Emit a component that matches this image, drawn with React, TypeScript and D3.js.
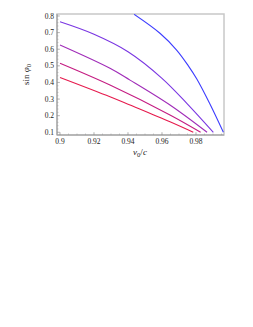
import * as d3 from "d3";

// v0/c sample points and sin(phi0) for each curve
const redV = [0.9, 0.9294, 0.9412, 0.9647, 0.9784];
const redS = [0.43, 0.314, 0.264, 0.163, 0.1];
const magentaV = [0.9, 0.9294, 0.9647, 0.9827];
const magentaS = [0.515, 0.384, 0.204, 0.1];
const purpleV = [0.9, 0.9294, 0.9412, 0.9647, 0.9865];
const purpleS = [0.625, 0.485, 0.414, 0.264, 0.1];
const violetV = [0.9, 0.92, 0.94, 0.96, 0.975, 0.9902];
const violetS = [0.765, 0.69, 0.585, 0.425, 0.27, 0.1];
const blueV = [0.9436, 0.9588, 0.9686, 0.9755, 0.9804, 0.9882, 0.9961];
const blueS = [0.81, 0.696, 0.595, 0.5, 0.422, 0.27, 0.1];

const xTicks = [0.9, 0.92, 0.94, 0.96, 0.98];
const yTicks = [0.1, 0.2, 0.3, 0.4, 0.5, 0.6, 0.7, 0.8];

const series = [
  { v: redV, s: redS, color: "#e61a4d" },
  { v: magentaV, s: magentaS, color: "#c41c82" },
  { v: purpleV, s: purpleS, color: "#a02cb8" },
  { v: violetV, s: violetS, color: "#7a36e2" },
  { v: blueV, s: blueS, color: "#3c3cff" },
];

const W = 253;
const H = 327;
const L = 57, R = 224, T = 14, B = 135;

export default function App() {
  const x = d3.scaleLinear().domain([0.89824, 0.99647]).range([L, R]);
  const y = d3.scaleLinear().domain([0.0837, 0.812]).range([B, T]);
  const line = d3
    .line<[number, number]>()
    .x((d) => x(d[0]))
    .y((d) => y(d[1]))
    .curve(d3.curveCatmullRom.alpha(0.5));
  const xMinor = d3.range(0.9, 0.996, 0.005);
  const yMinor = d3.range(0.1, 0.81, 0.02);
  const font = "'Liberation Serif', 'DejaVu Serif', serif";

  return (
    <svg
      width={W}
      height={H}
      style={{ position: "absolute", left: 0, top: 0 }}
      fontFamily={font}
    >
      <defs>
        <clipPath id="plot">
          <rect x={L} y={T} width={R - L} height={B - T} />
        </clipPath>
      </defs>
      <rect x={L} y={T} width={R - L} height={B - T} fill="white" stroke="#c8c8c8" strokeWidth={1.5} />
      <g clipPath="url(#plot)">
        {series.map((sr, i) => (
          <path
            key={i}
            d={line(sr.v.map((v, j) => [v, sr.s[j]] as [number, number])) || undefined}
            fill="none"
            stroke={sr.color}
            strokeWidth={1.1}
          />
        ))}
      </g>
      {/* left and bottom axes */}
      <line x1={L} x2={L} y1={T} y2={B} stroke="#999" strokeWidth={1} />
      <line x1={L} x2={R} y1={B} y2={B} stroke="#999" strokeWidth={1} />
      {xMinor.map((t, i) => (
        <line key={"xm" + i} x1={x(t)} x2={x(t)} y1={B} y2={B - 1.5} stroke="#999" strokeWidth={0.5} />
      ))}
      {yMinor.map((t, i) => (
        <line key={"ym" + i} x1={L} x2={L + 1.5} y1={y(t)} y2={y(t)} stroke="#999" strokeWidth={0.5} />
      ))}
      {xTicks.map((t) => (
        <g key={"x" + t}>
          <line x1={x(t)} x2={x(t)} y1={B} y2={B - 3} stroke="#999" strokeWidth={0.6} />
          <text x={x(t)} y={B + 9} fontSize={7.5} textAnchor="middle" fill="#222">
            {t}
          </text>
        </g>
      ))}
      {yTicks.map((t) => (
        <g key={"y" + t}>
          <line x1={L} x2={L + 3} y1={y(t)} y2={y(t)} stroke="#999" strokeWidth={0.6} />
          <text x={L - 3} y={y(t) + 2.6} fontSize={7.5} textAnchor="end" fill="#222">
            {t}
          </text>
        </g>
      ))}
      <text x={140} y={155} fontSize={9} textAnchor="middle" fill="#222">
        <tspan fontStyle="italic">v</tspan>
        <tspan fontSize={6.5} dy={2}>0</tspan>
        <tspan dy={-2}>/</tspan>
        <tspan fontStyle="italic">c</tspan>
      </text>
      <text
        transform={`translate(29, ${(T + B) / 2}) rotate(-90)`}
        fontSize={9}
        textAnchor="middle"
        fill="#222"
      >
        <tspan>sin </tspan>
        <tspan fontStyle="italic">φ</tspan>
        <tspan fontSize={6.5} dy={2}>0</tspan>
      </text>
    </svg>
  );
}
